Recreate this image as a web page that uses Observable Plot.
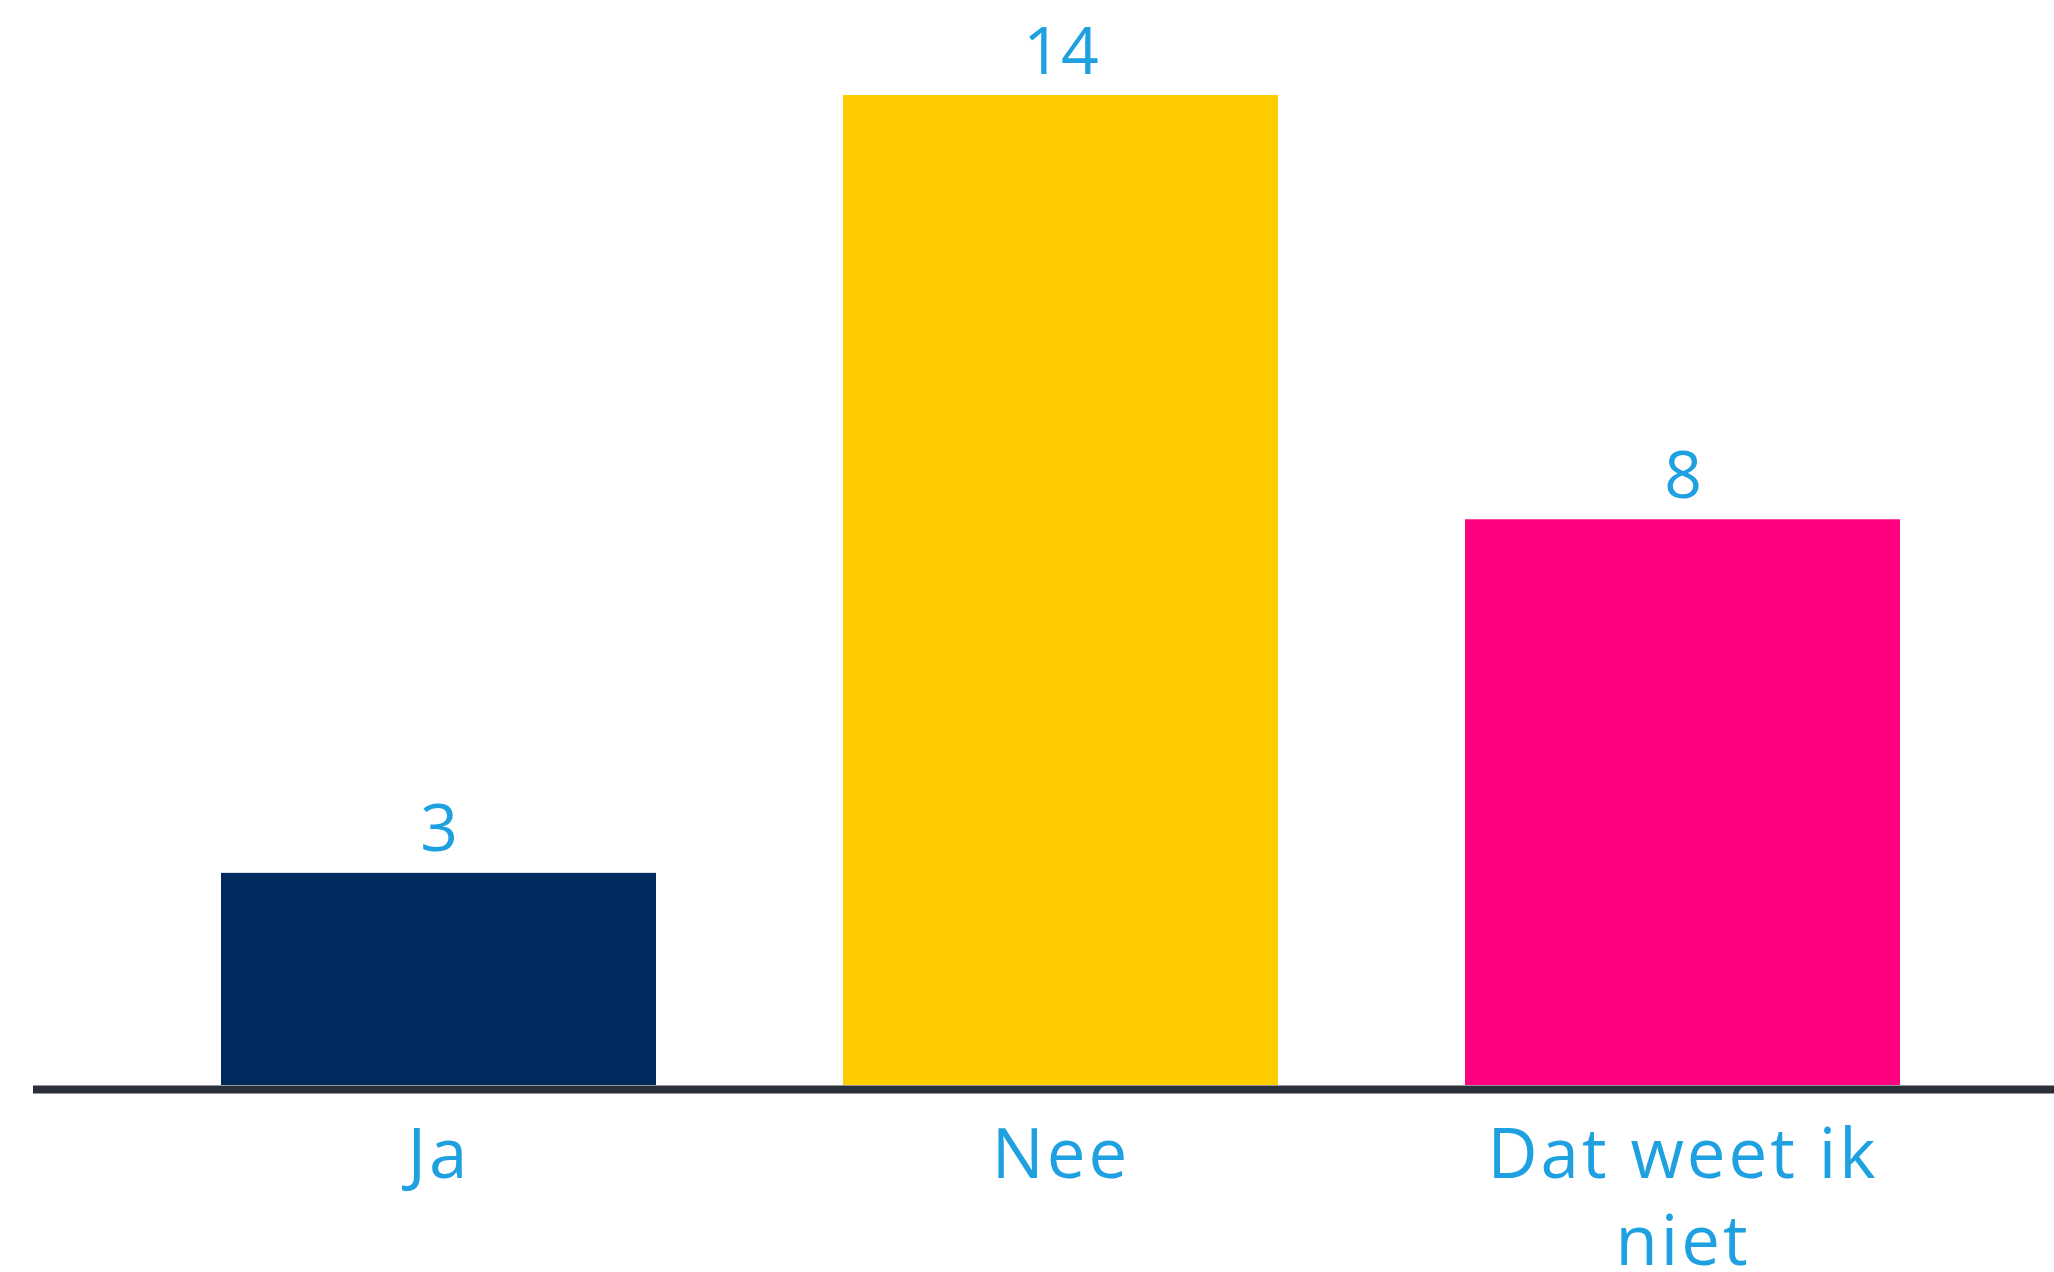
<!DOCTYPE html>
<html>
<head>
<meta charset="utf-8">
<script src="https://cdn.jsdelivr.net/npm/d3@7"></script>
<script src="https://cdn.jsdelivr.net/npm/@observablehq/plot@0.6"></script>
<style>
  html, body { margin: 0; padding: 0; background: #ffffff; }
  #chart svg { display: block; }
  #chart g[aria-label="x-axis tick label"] text { letter-spacing: 3px; }
</style>
</head>
<body>
<div id="chart"></div>
<script>
const categories = ["Ja", "Nee", "Dat weet ik niet"];
const tickLabels = ["Ja", "Nee", "Dat weet ik\nniet"];
const values = [3, 14, 8];
const colors = ["#012b5f", "#ffcc00", "#ff0080"];

const data = categories.map((c, i) => ({category: c, value: values[i], color: colors[i]}));

const labelColor = "#1ea0e1";
const fontFamily = "'Open Sans', Lato, sans-serif";

const chart = Plot.plot({
  width: 2054,
  height: 1272,
  marginLeft: 33,
  marginRight: 0,
  marginTop: 0,
  marginBottom: 187,
  style: {background: "#ffffff", fontFamily: fontFamily},
  x: {type: "band", domain: categories, range: [220, 1901], padding: 0.3, paddingOuter: 0},
  y: {domain: [0, 14], range: [1085, 95]},
  marks: [
    Plot.barY(data, {x: "category", y: "value", fill: "color"}),
    Plot.ruleY([0], {stroke: "#2b2f38", strokeWidth: 8, dy: 4}),
    Plot.text(data, {
      x: "category", y: "value", text: d => String(d.value),
      lineAnchor: "bottom", dy: -22, fill: labelColor, fontSize: 66
    }),
    Plot.axisX({
      tickSize: 0, tickPadding: 30, fontSize: 69, lineHeight: 1.27,
      color: labelColor, fill: labelColor, label: null,
      tickFormat: (d) => tickLabels[categories.indexOf(d)]
    }),
    Plot.axisY({ticks: [], label: null})
  ]
});
document.getElementById("chart").appendChild(chart);
</script>
</body>
</html>
